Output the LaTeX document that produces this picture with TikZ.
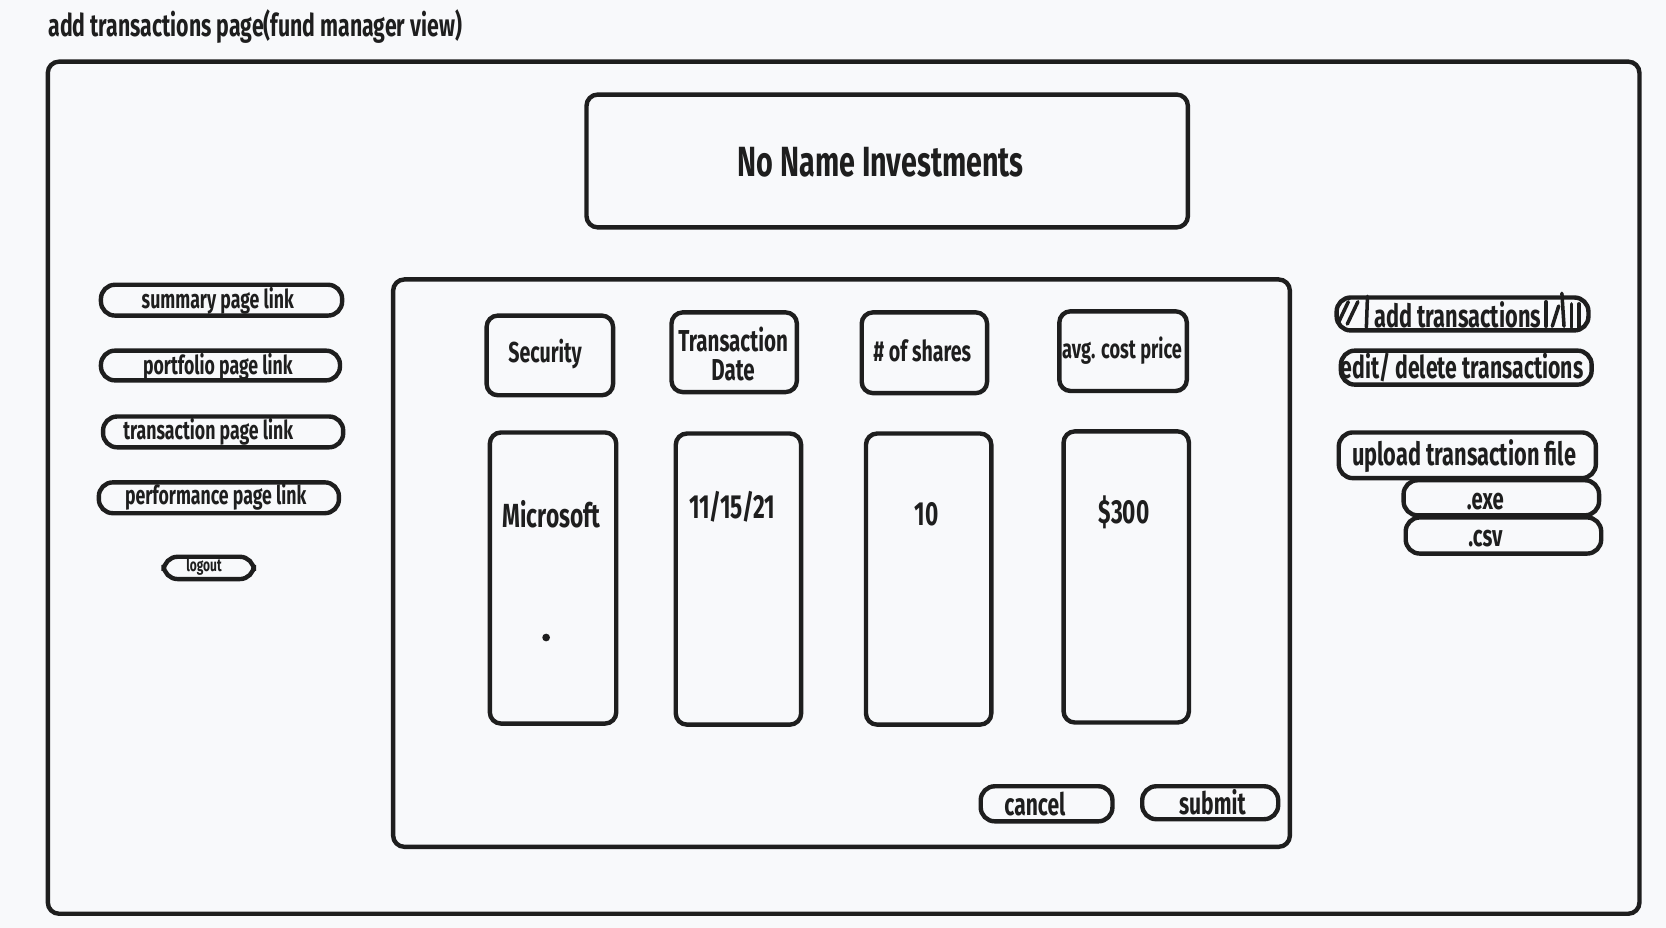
\documentclass[tikz,border=0pt]{standalone}
\usepackage{fontspec}
\setmainfont{Fira Sans}[FakeStretch=0.68]
\usetikzlibrary{fit}
\definecolor{ink}{HTML}{1E1E1E}
\definecolor{bg}{HTML}{F8F9FB}
\tikzset{
  frame/.style={draw=ink, line width=1.25pt, rounded corners=3.2pt, inner sep=0pt},
  pill/.style={draw=ink, line width=1.25pt, rounded corners=4pt, inner sep=0pt},
  lbl/.style={text=ink, inner sep=0pt, align=center},
  hatch/.style={draw=ink, line width=1.0pt, line cap=round},
}
\newcommand\fs[1]{\bfseries\fontsize{#1}{#1}\selectfont}
\newcommand\boxat[4]{\node[#1, fit={(#2) (#3)}] (#4) {};}
\begin{document}
\begin{tikzpicture}[x=0.010625cm, y=-0.010625cm]
\fill[bg] (0,0) rectangle (1568,873.4);
\useasboundingbox (0,0) rectangle (1568,873.4);

% title
\node[lbl, anchor=west, font=\fs{8.9}] (title) at (45,25) {add transactions page(fund manager view)};

% outer frame, header, panel
\boxat{frame}{45,58}{1543,860}{outer}
\boxat{frame}{552,89}{1118,214}{header}
\node[lbl, font=\fs{12}] (headertxt) at (829,153) {No Name Investments};
\boxat{frame}{370,263}{1214,797}{panel}

% column headers
\boxat{frame}{458,297}{577,372}{hsec}
\node[lbl, font=\fs{8.2}] (hsectxt) at (513,333) {Security};
\boxat{frame}{632,294}{750,369}{hdate}
\node[lbl, font=\bfseries\fontsize{8.6}{8.4}\selectfont] (hdatetxt) at (690,333) {Transaction\\Date};
\boxat{frame}{811,294}{929,370}{hshares}
\node[lbl, font=\fs{8.2}] (hsharestxt) at (868,330) {\# of shares};
\boxat{frame}{997,293}{1117,368}{hcost}
\node[lbl, font=\fs{7.6}] (hcosttxt) at (1056,330) {avg. cost price};

% value boxes
\boxat{frame}{461,407}{580,681}{vsec}
\node[lbl, font=\fs{9.5}] (vsectxt) at (519,484) {Microsoft};
\fill[ink] (514,600) circle (1.1pt);
\boxat{frame}{636,408}{754,682}{vdate}
\node[lbl, font=\fs{9.5}] (vdatetxt) at (689,477) {11/15/21};
\boxat{frame}{815,408}{933,682}{vshares}
\node[lbl, font=\fs{9.5}] (vsharestxt) at (872,484) {10};
\boxat{frame}{1001,406}{1119,680}{vcost}
\node[lbl, font=\fs{9.5}] (vcosttxt) at (1058,482) {\$300};

% cancel / submit
\boxat{pill}{923,740}{1047,773}{cancel}
\node[lbl, font=\fs{8.8}] (canceltxt) at (974,757) {cancel};
\boxat{pill}{1075,740}{1203,771}{submit}
\node[lbl, font=\fs{8.8}] (submittxt) at (1141,755) {submit};

% left links
\boxat{pill}{95,268}{322,297}{lsum}
\node[lbl, font=\fs{7.4}] (lsumtxt) at (205,283) {summary page link};
\boxat{pill}{95,330}{320,358}{lport}
\node[lbl, font=\fs{7.4}] (lporttxt) at (205,345) {portfolio page link};
\boxat{pill}{97,392}{323,421}{ltran}
\node[lbl, font=\fs{7.4}] (ltrantxt) at (196,406) {transaction page link};
\boxat{pill}{93,454}{319,483}{lperf}
\node[lbl, font=\fs{7.4}] (lperftxt) at (203,468) {performance page link};
\boxat{pill}{154,524}{239,545}{logout}
\node[lbl, font=\fs{5}] (logouttxt) at (192,533) {logout};

% right buttons
\boxat{pill}{1258,280}{1495,311}{addt}
\node[lbl, font=\fs{9.1}] (addttxt) at (1372,296) {add transactions};
\draw[hatch] (1260,303) -- (1269,284);
\draw[hatch] (1268,305) -- (1278,284);
\draw[hatch] (1287,279) -- (1286,308);
\draw[hatch] (1455,284) -- (1455,307);
\draw[hatch] (1461,307) -- (1467,288);
\draw[hatch] (1472,307) -- (1470,276);
\draw[hatch] (1479,286) -- (1479,308);
\draw[hatch] (1486,286) -- (1486,308);

\boxat{pill}{1262,330}{1498,362}{editt}
\node[lbl, font=\fs{8.9}] (editttxt) at (1376,346) {edit/ delete transactions};

\boxat{pill}{1260,407}{1502,450}{upload}
\node[lbl, font=\fs{9.1}] (uploadtxt) at (1378,429) {upload transaction file};
\boxat{pill}{1321,452}{1505,485}{exe}
\node[lbl, font=\fs{8.5}] (exetxt) at (1398,472) {.exe};
\boxat{pill}{1323,487}{1507,521}{csv}
\node[lbl, font=\fs{8.5}] (csvtxt) at (1398,507) {.csv};
\end{tikzpicture}
\end{document}
